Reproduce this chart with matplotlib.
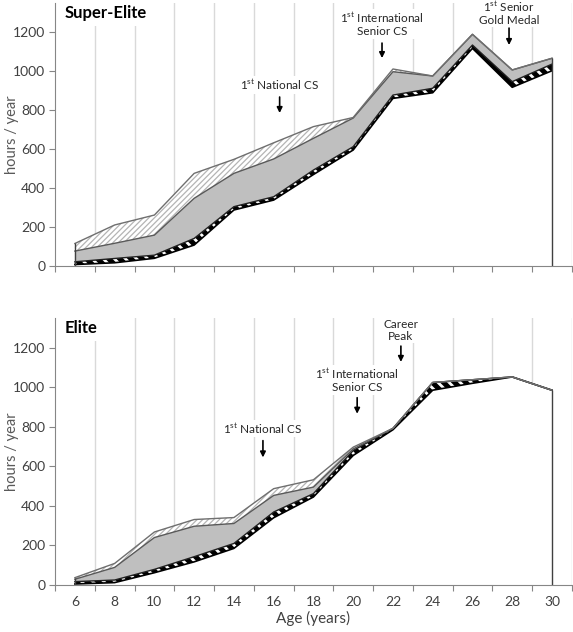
import numpy as np
import matplotlib
matplotlib.use("Agg")
import matplotlib.pyplot as plt

plt.rcParams['font.family'] = ['Lato', 'DejaVu Sans']
plt.rcParams['mathtext.fontset'] = 'custom'
plt.rcParams['mathtext.rm'] = 'Lato'

# Data: ages (years) and stacked layers in hours/year, bottom to top
ages = [6, 8, 10, 12, 14, 16, 18, 20, 22, 24, 26, 28, 30]

se_base = [8, 17, 40, 108, 288, 339, 470, 596, 861, 890, 1118, 918, 1003]
se_checker = [14, 22, 16, 34, 17, 17, 23, 17, 17, 23, 17, 29, 34]
se_gray = [55, 78, 103, 206, 171, 194, 163, 147, 120, 63, 55, 60, 30]
se_hatch = [39, 94, 103, 128, 72, 83, 60, 3, 14, 0, 0, 0, 0]

el_base = [5, 12, 62, 117, 185, 340, 445, 655, 785, 985, 1020, 1052, 985]
el_checker = [12, 13, 17, 26, 25, 29, 17, 25, 7, 39, 18, 0, 0]
el_gray = [12, 64, 161, 154, 101, 84, 33, 8, 0, 0, 0, 0, 0]
el_hatch = [8, 20, 28, 34, 30, 34, 37, 9, 0, 0, 0, 0, 0]

yticks = [0, 200, 400, 600, 800, 1000, 1200]
xlabels = [6, 8, 10, 12, 14, 16, 18, 20, 22, 24, 26, 28, 30]

# annotations: text, x, text y, arrow start y, arrow end y
se_notes = [
    ("1$^{\\mathregular{st}}$ National CS", 16.3, 930, 868, 786),
    ("1$^{\\mathregular{st}}$ International\nSenior CS", 21.45, 1243, 1145, 1068),
    ("1$^{\\mathregular{st}}$ Senior\nGold Medal", 27.84, 1302, 1222, 1135),
]
el_notes = [
    ("1$^{\\mathregular{st}}$ National CS", 15.46, 790, 730, 645),
    ("1$^{\\mathregular{st}}$ International\nSenior CS", 20.2, 1037, 947, 866),
    ("Career\nPeak", 22.4, 1289, 1208, 1128),
]

spine_col = '#868686'
text_col = '#404040'


def hatched_fill(ax, lo, hi, face, hcol, hatch, hlw):
    with plt.rc_context({'hatch.linewidth': hlw}):
        c = ax.fill_between(ages, lo, hi, facecolor=face, edgecolor=hcol,
                            hatch=hatch, lw=0, zorder=2)
    if hasattr(c, 'set_hatch_linewidth'):
        c.set_hatch_linewidth(hlw)
    return c


def draw_panel(ax, layers, title, notes, show_xlabels):
    tops = np.cumsum(np.array(layers, dtype=float), axis=0)

    # vertical gridlines at odd ages
    for g in range(7, 32, 2):
        ax.axvline(g, color='#d9d9d9', lw=1, zorder=0)

    ax.fill_between(ages, 0, tops[0], facecolor='white', lw=0, zorder=2)
    hatched_fill(ax, tops[0], tops[1], 'black', 'white', '\\\\\\', 2.0)
    ax.fill_between(ages, tops[1], tops[2], facecolor='#bfbfbf', lw=0, zorder=2)
    hatched_fill(ax, tops[2], tops[3], 'white', '#b4b4b4', '//////', 0.9)

    ax.plot(ages, tops[0], color='black', lw=1.2, zorder=3)
    ax.plot(ages, tops[1], color='#202020', lw=1, zorder=3)
    ax.plot(ages, tops[2], color='#595959', lw=1, zorder=3)
    ax.plot(ages, tops[3], color='#6f6f6f', lw=1, zorder=3)
    ax.vlines([ages[0], ages[-1]], 0, [tops[3][0], tops[3][-1]],
              color='#404040', lw=1, zorder=3)

    ax.set_xlim(5, 31)
    ax.set_ylim(0, 1350)
    ax.set_xticks(range(5, 32, 2))
    ax.set_xticklabels([])
    ax.set_xticks(xlabels, minor=True)
    if show_xlabels:
        ax.set_xticklabels([str(v) for v in xlabels], minor=True)
    else:
        ax.set_xticklabels([], minor=True)
    ax.tick_params(axis='x', which='minor', length=0, labelsize=10,
                   labelcolor=text_col, pad=8)
    ax.tick_params(axis='x', which='major', length=4, color=spine_col)
    ax.set_yticks(yticks)
    ax.tick_params(axis='y', length=4, color=spine_col, labelsize=10,
                   labelcolor=text_col, pad=3)

    for s in ['top', 'right']:
        ax.spines[s].set_visible(False)
    for s in ['left', 'bottom']:
        ax.spines[s].set_color(spine_col)
        ax.spines[s].set_zorder(4)

    ax.set_ylabel('hours / year', fontsize=10.5, color='#595959')
    ax.yaxis.set_label_coords(-0.07, 0.5)

    ax.text(5.5, 1300, title, fontsize=12, fontweight='bold', color='black',
            ha='left', va='center', zorder=5,
            bbox=dict(facecolor='white', edgecolor='none', pad=4))

    for txt, x, ty, a0, a1 in notes:
        ax.text(x, ty, txt, fontsize=8.5, color='#262626', ha='center',
                va='center', linespacing=1.1, zorder=5,
                bbox=dict(facecolor='white', edgecolor='none', pad=1))
        ax.annotate('', xy=(x, a1), xytext=(x, a0), zorder=5,
                    arrowprops=dict(arrowstyle='-|>', color='black', lw=1.2,
                                    mutation_scale=8, shrinkA=0, shrinkB=0))


fig = plt.figure(figsize=(5.73, 6.32), dpi=100)
ax1 = fig.add_axes([0.096, 0.579, 0.902, 0.416])
ax2 = fig.add_axes([0.096, 0.0744, 0.902, 0.4224])

draw_panel(ax1, [se_base, se_checker, se_gray, se_hatch], 'Super-Elite',
           se_notes, False)
draw_panel(ax2, [el_base, el_checker, el_gray, el_hatch], 'Elite',
           el_notes, True)
ax2.set_xlabel('Age (years)', fontsize=11, color='#404040', labelpad=2)

fig.savefig('out.png', dpi=100)
